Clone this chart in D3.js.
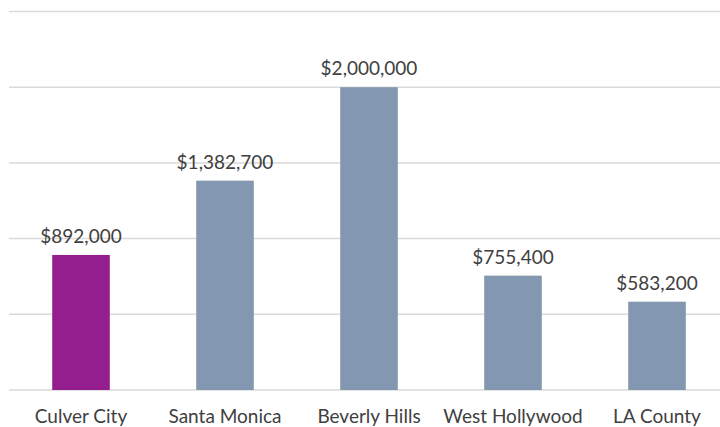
<!DOCTYPE html>
<html>
<head>
<meta charset="utf-8">
<script src="https://cdn.jsdelivr.net/npm/d3@7"></script>
<style>
  body { margin: 0; background: #fff; }
  text { font-family: Lato, "Open Sans", sans-serif; fill: #404040; }
</style>
</head>
<body>
<div id="chart"></div>
<script>
// Data
const places = ["Culver City", "Santa Monica", "Beverly Hills", "West Hollywood", "LA County"];
const prices = [892000, 1382700, 2000000, 755400, 583200];
const gridTicks = [0, 500000, 1000000, 1500000, 2000000, 2500000];

const width = 720,
    height = 427;

const svg = d3.select("#chart")
    .append("svg")
    .attr("width", width)
    .attr("height", height);

// Scales
const x = d3.scaleBand()
    .domain(places)
    .range([9, 729])
    .paddingInner(0.6)
    .paddingOuter(0.3);

const y = d3.scaleLinear()
    .domain([0, 2500000])
    .range([390, 11.5]);

// Gridlines
svg.append("g")
    .selectAll("line")
    .data(gridTicks)
    .enter().append("line")
    .attr("x1", 9)
    .attr("x2", width)
    .attr("y1", d => y(d))
    .attr("y2", d => y(d))
    .attr("stroke", "#d9d9d9")
    .attr("stroke-width", 1.5);

// Bars
svg.append("g")
    .selectAll("rect")
    .data(prices)
    .enter().append("rect")
    .attr("x", (d, i) => x(places[i]))
    .attr("y", d => y(d))
    .attr("width", x.bandwidth())
    .attr("height", d => y(0) - y(d))
    .attr("fill", (d, i) => i == 0 ? "#951e8f" : "#8497b0");

// Value labels
const fmt = d3.format("$,");
svg.append("g")
    .selectAll("text")
    .data(prices)
    .enter().append("text")
    .attr("x", (d, i) => x(places[i]) + x.bandwidth() / 2)
    .attr("y", d => y(d) - 12)
    .attr("text-anchor", "middle")
    .style("font-size", "19px")
    .text(d => fmt(d));

// Category labels
svg.append("g")
    .selectAll("text")
    .data(places)
    .enter().append("text")
    .attr("x", d => x(d) + x.bandwidth() / 2)
    .attr("y", 423)
    .attr("text-anchor", "middle")
    .style("font-size", "19px")
    .text(d => d);
</script>
</body>
</html>
